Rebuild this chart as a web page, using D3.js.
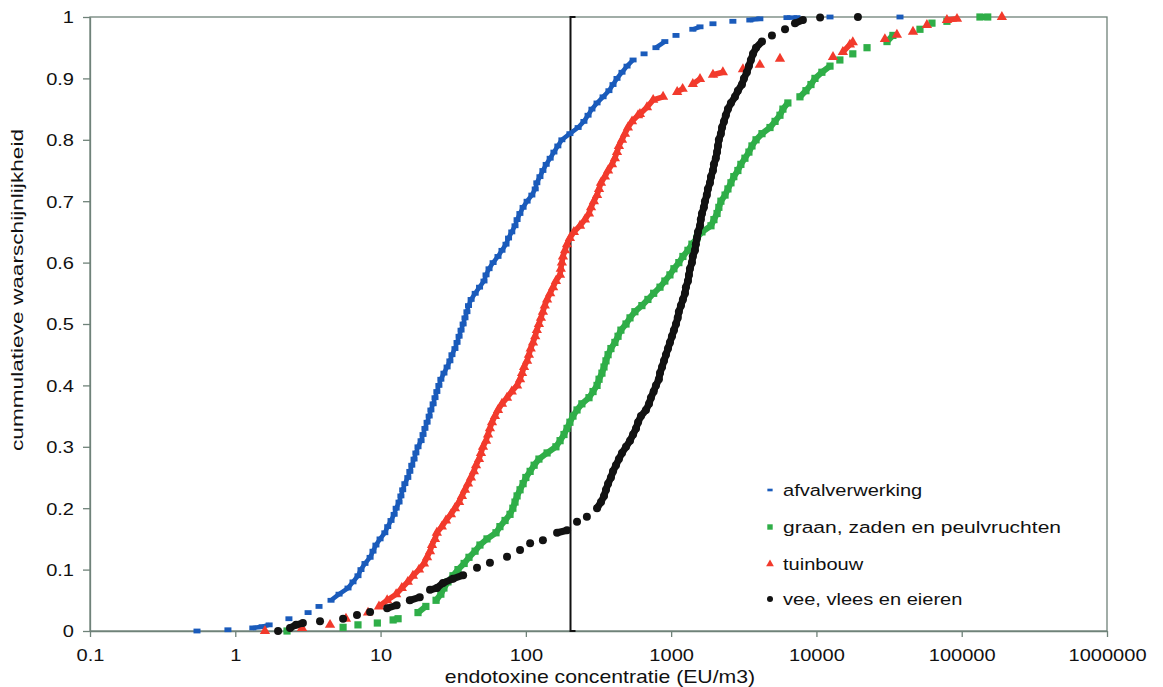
<!DOCTYPE html>
<meta charset="utf-8">
<style>
  body { margin: 0; background: #fff; }
  text { font-family: "Liberation Sans", Arial, sans-serif; fill: #111; }
</style>
<svg width="1163" height="687"></svg>
<script src="https://cdn.jsdelivr.net/npm/d3@7"></script>
<script>

// [concentratie (EU/m3), cumulatieve kans]
var afvalverwerking = [[0.545,0],[0.89,0.002],[1.32,0.005],[1.53,0.007],[1.71,0.01],[2.34,0.02],[3.17,0.03],[3.77,0.04],[4.56,0.05],[5.18,0.06],[5.97,0.07],[6.46,0.08],[6.99,0.09],[7.33,0.10],[7.81,0.11],[8.47,0.12],[8.87,0.13],[9.29,0.14],[9.92,0.15],[10.7,0.16],[11.2,0.17],[11.8,0.18],[12.4,0.19],[12.8,0.20],[13.4,0.21],[13.8,0.22],[14.2,0.23],[14.7,0.24],[15.4,0.25],[15.9,0.26],[16.4,0.27],[17.0,0.28],[17.5,0.29],[18.1,0.30],[19.0,0.31],[19.6,0.32],[20.2,0.33],[20.9,0.34],[21.6,0.35],[22.2,0.36],[23.0,0.37],[23.7,0.38],[24.4,0.39],[25.2,0.40],[26.0,0.41],[27.3,0.42],[28.7,0.43],[30.0,0.44],[31.0,0.45],[32.5,0.46],[33.6,0.47],[34.7,0.48],[35.8,0.49],[37.0,0.50],[38.1,0.51],[39.3,0.52],[40.3,0.53],[42.0,0.54],[44.8,0.55],[48.0,0.56],[51.5,0.57],[53.2,0.58],[55.8,0.59],[59.5,0.60],[64.3,0.61],[68.5,0.62],[73.0,0.63],[76.0,0.64],[80.0,0.65],[84.2,0.66],[87.0,0.67],[91.0,0.68],[95.7,0.69],[102,0.70],[110,0.71],[116,0.72],[119,0.73],[125,0.74],[131,0.75],[138,0.76],[147,0.77],[156,0.78],[166,0.79],[177,0.80],[201,0.81],[229,0.82],[251,0.83],[268,0.84],[285,0.85],[309,0.86],[340,0.87],[373,0.88],[398,0.89],[424,0.90],[459,0.91],[497,0.92],[547,0.93],[651,0.94],[786,0.95],[905,0.96],[1080,0.97],[1410,0.98],[1580,0.984],[1940,0.989],[2660,0.993],[3480,0.995],[4080,0.997],[6270,0.999],[7350,0.999],[12400,1],[37600,1]]

var graan = [[2.27,0],[5.52,0.006],[6.99,0.01],[9.50,0.013],[12.2,0.018],[13.2,0.02],[18.1,0.03],[20.5,0.04],[24.1,0.05],[26.0,0.06],[27.3,0.07],[29.1,0.08],[31.5,0.09],[34.1,0.10],[37.6,0.11],[40.6,0.12],[44.7,0.13],[48.3,0.14],[54.0,0.15],[62.3,0.16],[66.3,0.17],[71.9,0.18],[77.8,0.19],[81.4,0.20],[84.2,0.21],[87.0,0.22],[91.2,0.23],[95.7,0.24],[100,0.25],[107,0.26],[114,0.27],[123,0.28],[140,0.29],[161,0.30],[172,0.31],[183,0.32],[192,0.33],[201,0.34],[211,0.35],[225,0.36],[243,0.37],[272,0.38],[290,0.39],[309,0.40],[319,0.41],[334,0.42],[345,0.43],[356,0.44],[368,0.45],[385,0.46],[410,0.47],[431,0.48],[451,0.49],[489,0.50],[521,0.51],[563,0.52],[629,0.53],[692,0.54],[758,0.55],[838,0.56],[905,0.57],[981,0.58],[1045,0.59],[1130,0.60],[1205,0.61],[1305,0.62],[1390,0.63],[1505,0.64],[1630,0.65],[1880,0.66],[1970,0.67],[2070,0.68],[2130,0.69],[2200,0.70],[2350,0.71],[2460,0.72],[2580,0.73],[2700,0.74],[2880,0.75],[3020,0.76],[3220,0.77],[3430,0.78],[3600,0.79],[3840,0.80],[4220,0.81],[4790,0.82],[5190,0.83],[5610,0.84],[5880,0.85],[6360,0.86],[7700,0.87],[8470,0.88],[9170,0.89],[9770,0.90],[10900,0.91],[12400,0.92],[14500,0.93],[17800,0.94],[22300,0.95],[30600,0.96],[33600,0.97],[51600,0.98],[62400,0.99],[79100,0.993],[133500,1],[151000,1]]

var tuinbouw = [[1.60,0],[2.88,0.005],[4.49,0.01],[5.78,0.02],[8.20,0.03],[9.75,0.04],[11.1,0.05],[12.8,0.06],[14.0,0.07],[15.4,0.08],[16.7,0.09],[18.4,0.10],[19.9,0.11],[20.9,0.12],[21.9,0.13],[22.6,0.14],[23.7,0.15],[24.4,0.16],[26.4,0.17],[28.2,0.18],[30.5,0.19],[32.5,0.20],[34.7,0.21],[36.3,0.22],[38.1,0.23],[40.0,0.24],[41.9,0.25],[43.9,0.26],[45.4,0.27],[47.6,0.28],[49.1,0.29],[50.7,0.30],[53.2,0.31],[54.9,0.32],[56.6,0.33],[58.5,0.34],[61.3,0.35],[64.3,0.36],[68.5,0.37],[74.2,0.38],[80.0,0.39],[87.0,0.40],[91.2,0.41],[94.2,0.42],[97.2,0.43],[102,0.44],[105,0.45],[108,0.46],[112,0.47],[116,0.48],[119,0.49],[123,0.50],[127,0.51],[131,0.52],[135,0.53],[140,0.54],[147,0.55],[154,0.56],[161,0.57],[172,0.58],[174,0.59],[177,0.60],[180,0.61],[186,0.62],[192,0.63],[201,0.64],[214,0.65],[236,0.66],[255,0.67],[272,0.68],[281,0.69],[294,0.70],[309,0.71],[319,0.72],[329,0.73],[350,0.74],[368,0.75],[392,0.76],[410,0.77],[424,0.78],[437,0.79],[459,0.80],[481,0.81],[504,0.82],[538,0.83],[592,0.84],[610,0.842],[682,0.853],[752,0.865],[880,0.870],[1100,0.878],[1200,0.883],[1410,0.891],[1580,0.899],[1940,0.906],[2270,0.910],[3120,0.915],[4080,0.922],[5610,0.932],[13000,0.935],[15200,0.943],[17000,0.955],[17800,0.959],[29600,0.964],[35800,0.971],[46200,0.976],[57600,0.987],[79100,0.995],[92800,0.997],[189000,1]]

var vee = [[1.97,0],[2.38,0.005],[2.62,0.01],[2.92,0.013],[3.83,0.016],[5.52,0.02],[6.88,0.026],[8.47,0.031],[11.1,0.037],[12.9,0.042],[15.9,0.05],[18.6,0.055],[21.9,0.067],[24.4,0.07],[26.9,0.078],[31.5,0.085],[37.0,0.091],[46.1,0.103],[56.6,0.111],[74.2,0.121],[91.2,0.132],[107,0.143],[131,0.148],[164,0.160],[192,0.164],[225,0.178],[263,0.186],[309,0.20],[329,0.21],[345,0.22],[356,0.23],[368,0.24],[385,0.25],[398,0.26],[417,0.27],[437,0.28],[459,0.29],[489,0.30],[521,0.31],[547,0.32],[573,0.33],[592,0.34],[620,0.35],[671,0.36],[704,0.37],[726,0.38],[758,0.39],[786,0.40],[823,0.41],[838,0.42],[866,0.43],[893,0.44],[921,0.45],[951,0.46],[981,0.47],[1013,0.48],[1045,0.49],[1080,0.50],[1110,0.51],[1130,0.52],[1168,0.53],[1205,0.54],[1245,0.55],[1264,0.56],[1305,0.57],[1326,0.58],[1347,0.59],[1390,0.60],[1410,0.61],[1458,0.62],[1480,0.63],[1505,0.64],[1530,0.65],[1580,0.66],[1600,0.67],[1630,0.68],[1680,0.69],[1710,0.70],[1760,0.71],[1790,0.72],[1850,0.73],[1880,0.74],[1940,0.75],[1970,0.76],[2030,0.77],[2070,0.78],[2100,0.79],[2130,0.80],[2200,0.81],[2240,0.82],[2310,0.83],[2380,0.84],[2460,0.85],[2580,0.86],[2750,0.87],[2880,0.88],[3070,0.89],[3170,0.90],[3320,0.91],[3430,0.92],[3540,0.93],[3660,0.94],[3840,0.95],[4220,0.96],[4940,0.97],[6080,0.98],[7120,0.99],[8070,0.995],[10600,0.999],[19300,1]]

var grenswaarde = 200

var xTicks = [0.1, 1, 10, 100, 1000, 10000, 100000, 1000000]
var xTickLabels = ['0.1', '1', '10', '100', '1000', '10000', '100000', '1000000']
var yTicks = [0, 0.1, 0.2, 0.3, 0.4, 0.5, 0.6, 0.7, 0.8, 0.9, 1]
var yTickLabels = ['0', '0.1', '0.2', '0.3', '0.4', '0.5', '0.6', '0.7', '0.8', '0.9', '1']

var series = [
    {name: 'afvalverwerking', data: afvalverwerking, color: '#1a5bbb', shape: 'dash', width: 4.5, textLen: null},
    {name: 'graan, zaden en peulvruchten', data: graan, color: '#2fae48', shape: 'square', width: 6, textLen: 278},
    {name: 'tuinbouw', data: tuinbouw, color: '#f23a2c', shape: 'triangle', width: 5.5, textLen: null},
    {name: 'vee, vlees en eieren', data: vee, color: '#121212', shape: 'circle', width: 7, textLen: null}
]

var svg = d3.select('svg')
// plot area (don't call these top/left, window.top is read only)
var plotL = 90, plotR = 1107, plotT = 17, plotB = 631
var stretch = 1.18   // the original is a bit wider than it is high
var axisColor = '#6f8279'

var x = d3.scaleLog().domain([0.1, 1000000]).range([plotL, plotR])
var y = d3.scaleLinear().domain([0, 1]).range([plotB, plotT])

// frame
svg.append('rect')
    .attr('x', plotL).attr('y', plotT)
    .attr('width', plotR - plotL).attr('height', plotB - plotT)
    .attr('fill', 'none').attr('stroke', axisColor).attr('stroke-width', 1.3)

var xAxis = svg.append('g')
    .attr('transform', 'translate(0,' + plotB + ')')
    .call(d3.axisBottom(x).tickValues(xTicks)
        .tickFormat(function (d, i) { return xTickLabels[i] })
        .tickSize(6).tickSizeOuter(0).tickPadding(12))
var yAxis = svg.append('g')
    .attr('transform', 'translate(' + plotL + ',0)')
    .call(d3.axisLeft(y).tickValues(yTicks)
        .tickFormat(function (d, i) { return yTickLabels[i] })
        .tickSize(7).tickSizeOuter(0).tickPadding(8))

;[xAxis, yAxis].forEach(function (g) {
    g.select('.domain').attr('stroke', axisColor).attr('stroke-width', 1.3)
    g.selectAll('.tick line').attr('stroke', axisColor).attr('stroke-width', 1.3)
    g.selectAll('.tick text').attr('font-size', 17).attr('fill', '#111')
        .attr('font-family', '"Liberation Sans", Arial, sans-serif')
})
xAxis.selectAll('.tick text').attr('transform', 'scale(' + stretch + ',1)')
yAxis.selectAll('.tick text')
    .attr('x', -16 / stretch)
    .attr('dy', '0.35em')
    .attr('transform', 'scale(' + stretch + ',1)')

// grenswaarde line
var gx = Math.round(x(grenswaarde)) + 0.5
svg.append('path')
    .attr('d', 'M' + (gx + 5) + ',' + plotT + 'H' + gx + 'V' + plotB + 'H' + (gx + 5))
    .attr('fill', 'none').attr('stroke', '#111').attr('stroke-width', 2)

function drawMarker(sel, shape, color) {
    if (shape === 'dash') {
        sel.append('rect').attr('x', -3.5).attr('y', -2.4).attr('width', 7).attr('height', 4.8).attr('fill', color)
    } else if (shape === 'square') {
        sel.append('rect').attr('x', -3.6).attr('y', -3.6).attr('width', 7.2).attr('height', 7.2).attr('fill', color)
    } else if (shape === 'triangle') {
        sel.append('path').attr('d', d3.symbol().type(d3.symbolTriangle).size(46)()).attr('fill', color)
    } else {
        sel.append('circle').attr('r', 4).attr('fill', color)
    }
}

// the original has many more samples; where they sit close together they merge
// into a solid band, so join neighbouring markers that are only a few px apart
function closeRuns(data) {
    var runs = [], cur = []
    data.forEach(function (d, i) {
        if (i > 0) {
            var p = data[i - 1]
            var dist = Math.hypot(x(d[0]) - x(p[0]), y(d[1]) - y(p[1]))
            if (dist > 11) { runs.push(cur); cur = [] }
        }
        cur.push(d)
    })
    runs.push(cur)
    return runs.filter(function (r) { return r.length > 1 })
}

var line = d3.line().x(function (d) { return x(d[0]) }).y(function (d) { return y(d[1]) })

series.forEach(function (s) {
    var g = svg.append('g').attr('class', 'series')
    g.selectAll('path.band').data(closeRuns(s.data)).enter().append('path')
        .attr('class', 'band')
        .attr('d', line)
        .attr('fill', 'none')
        .attr('stroke', s.color)
        .attr('stroke-width', s.width)
        .attr('stroke-linejoin', 'round')
    var pts = g.selectAll('g.pt').data(s.data).enter().append('g')
        .attr('class', 'pt')
        .attr('transform', function (d) { return 'translate(' + x(d[0]) + ',' + y(d[1]) + ')' })
    drawMarker(pts, s.shape, s.color)
})

// legend
var legendY = [490, 527, 564, 599]
series.forEach(function (s, i) {
    var g = svg.append('g').attr('transform', 'translate(770,' + legendY[i] + ')')
    var m = g.append('g').attr('transform', s.shape === 'dash' ? 'scale(0.75,0.55)' : 'scale(0.75)')
    drawMarker(m, s.shape, s.color)
    var t = g.append('text')
        .attr('transform', 'translate(13,0) scale(' + stretch + ',1)')
        .attr('dy', '0.35em')
        .attr('font-size', 17)
        .text(s.name)
    if (s.textLen) t.attr('textLength', s.textLen / stretch).attr('lengthAdjust', 'spacingAndGlyphs')
})

// axis titles
svg.append('text')
    .attr('transform', 'translate(600,677) scale(' + stretch + ',1)')
    .attr('text-anchor', 'middle').attr('dy', '0.35em')
    .attr('font-size', 18)
    .text('endotoxine concentratie (EU/m3)')

svg.append('text')
    .attr('transform', 'translate(17,290) rotate(-90)')
    .attr('text-anchor', 'middle').attr('dy', '0.35em')
    .attr('font-size', 16)
    .attr('textLength', 322).attr('lengthAdjust', 'spacingAndGlyphs')
    .text('cummulatieve waarschijnlijkheid')

</script>
